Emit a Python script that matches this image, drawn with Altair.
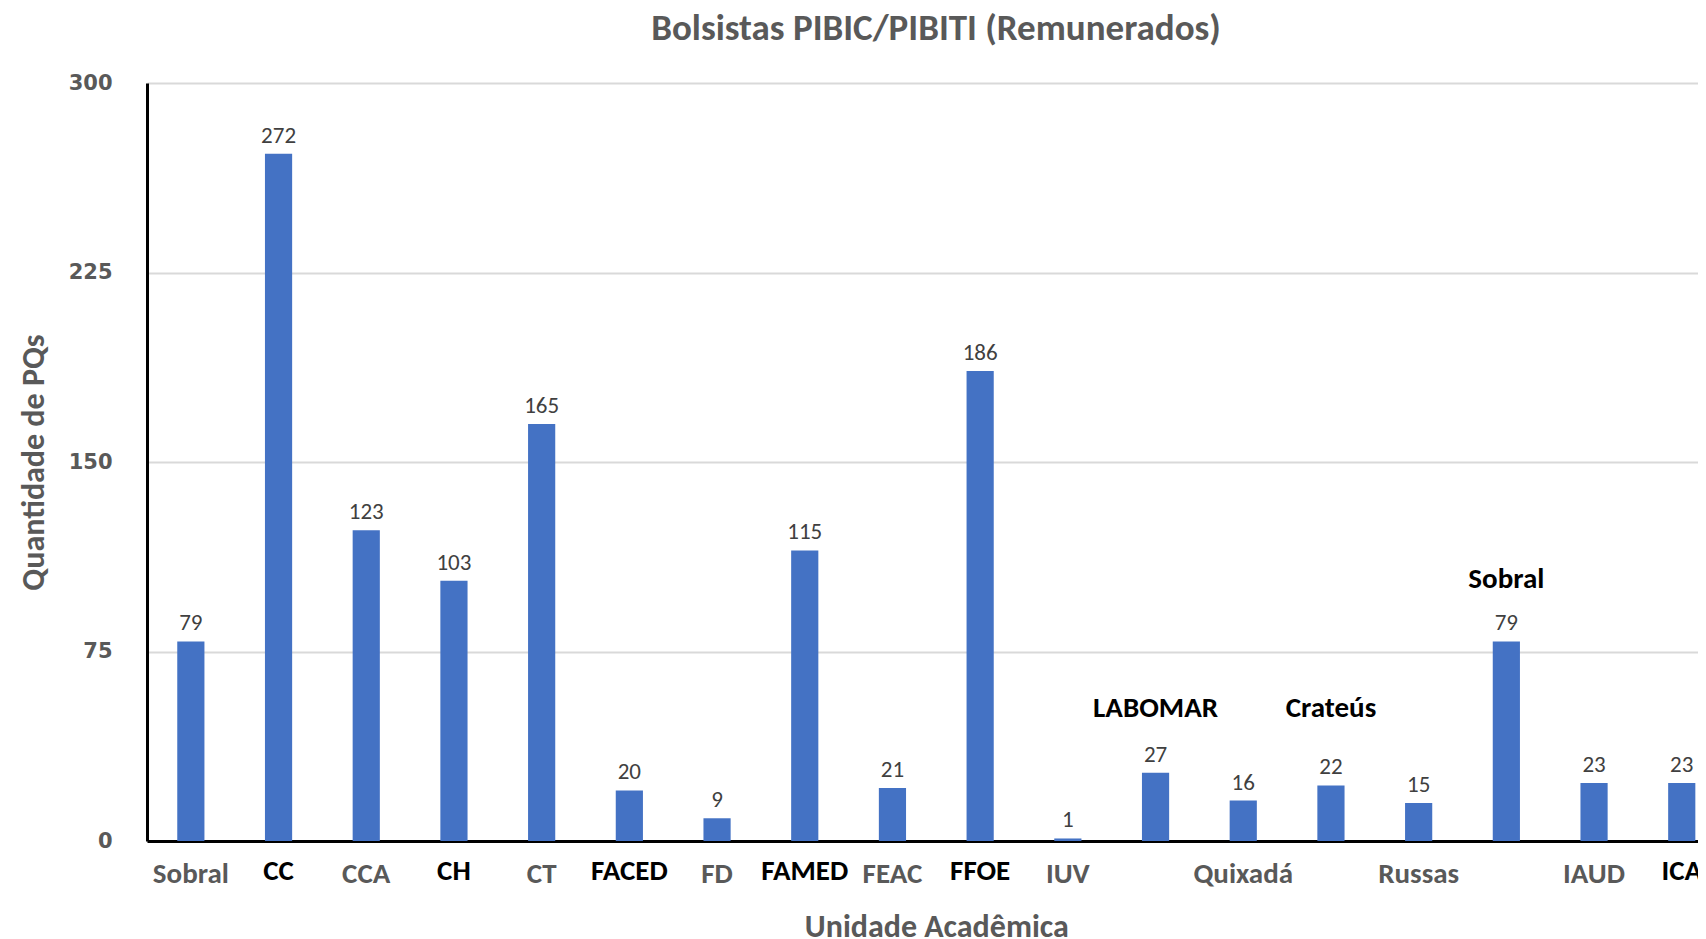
import altair as alt
import pandas as pd

# ---- data ----
unidades = ["Sobral", "CC", "CCA", "CH", "CT", "FACED", "FD", "FAMED", "FEAC",
            "FFOE", "IUV", "LABOMAR", "Quixadá", "Crateús", "Russas", "Sobral",
            "IAUD", "ICA"]
bolsistas = [79, 272, 123, 103, 165, 20, 9, 115, 21, 186, 1, 27, 16, 22, 15, 79, 23, 23]
# how each category name is shown: grey axis label, black axis label, or above the bar
estilo = ["cinza", "preto", "cinza", "preto", "cinza", "preto", "cinza", "preto", "cinza",
          "preto", "cinza", "acima", "cinza", "acima", "cinza", "acima", "cinza", "preto"]
y_ticks = [0, 75, 150, 225, 300]

df = pd.DataFrame({
    "pos": [f"{i:02d}" for i in range(len(unidades))],
    "unidade": unidades,
    "valor": bolsistas,
    "estilo": estilo,
})

# ---- layout / style ----
W, H = 1551, 758
STEP = 87.7
N = len(unidades)
FONT = "Carlito, Lato, sans-serif"
GREY = "#595959"
LBL = 29

x_scale = alt.Scale(range=[0, STEP * N], paddingInner=0.69, paddingOuter=0.345)
y_scale = alt.Scale(domain=[0, 300], nice=False)

x_axis = alt.Axis(labels=False, ticks=False, domain=True, domainColor="black",
                  domainWidth=3, grid=False,
                  title="Unidade Acadêmica", titleFont=FONT, titleFontSize=32,
                  titleFontWeight="bold", titleColor=GREY,
                  titleX=STEP * N / 2, titleY=85, titleBaseline="middle",
                  titleAlign="center")
y_axis = alt.Axis(values=y_ticks, grid=True, gridColor="#D9D9D9", gridWidth=2,
                  domain=True, domainColor="black", domainWidth=3, ticks=False,
                  labelFont="DejaVu Sans", labelFontWeight="bold", labelFontSize=21,
                  labelColor=GREY, labelPadding=35,
                  title="Quantidade de PQs", titleFont=FONT, titleFontSize=32,
                  titleFontWeight="bold", titleColor=GREY, titleAngle=-90,
                  titleX=-114, titleY=H / 2, titleBaseline="middle", titleAlign="center")

x = alt.X("pos:N", sort=None, scale=x_scale, axis=x_axis)
y = alt.Y("valor:Q", scale=y_scale, axis=y_axis)

base = alt.Chart(df)

bars = base.mark_bar(color="#4472C4").encode(x=x, y=y)

valores = base.mark_text(font=FONT, fontSize=23, color="#404040",
                         baseline="bottom", dy=-6).encode(x=x, y=y, text="valor:Q")

rot_cinza = base.transform_filter("datum.estilo == 'cinza'").mark_text(
    font=FONT, fontSize=LBL, fontWeight="bold", color=GREY, baseline="middle"
).encode(x=x, y=alt.value(H + 33), text="unidade:N")

rot_preto = base.transform_filter("datum.estilo == 'preto'").mark_text(
    font=FONT, fontSize=LBL, fontWeight="bold", color="black", baseline="middle"
).encode(x=x, y=alt.value(H + 30), text="unidade:N")

acima_baixo = base.transform_filter(
    "datum.estilo == 'acima' && datum.valor < 50").mark_text(
    font=FONT, fontSize=LBL, fontWeight="bold", color="black", baseline="middle"
).encode(x=x, y=alt.Y(datum=52.5, type="quantitative", scale=y_scale, axis=y_axis),
         text="unidade:N")

acima_alto = base.transform_filter(
    "datum.estilo == 'acima' && datum.valor >= 50").mark_text(
    font=FONT, fontSize=LBL, fontWeight="bold", color="black", baseline="middle"
).encode(x=x, y=alt.Y(datum=103.5, type="quantitative", scale=y_scale, axis=y_axis),
         text="unidade:N")

chart = alt.layer(bars, valores, rot_cinza, rot_preto, acima_baixo, acima_alto).properties(
    width=W, height=H,
    autosize=alt.AutoSizeParams(type="none"),
    padding={"left": 139, "top": 75, "right": 0, "bottom": 98},
    title=alt.TitleParams("Bolsistas PIBIC/PIBITI (Remunerados)", font=FONT,
                          fontSize=37, fontWeight="bold", color=GREY,
                          anchor="middle", frame="group", offset=24, dx=13.5),
).configure_view(stroke=None)

chart.save("out.html", embed_options={"renderer": "svg", "actions": False})
